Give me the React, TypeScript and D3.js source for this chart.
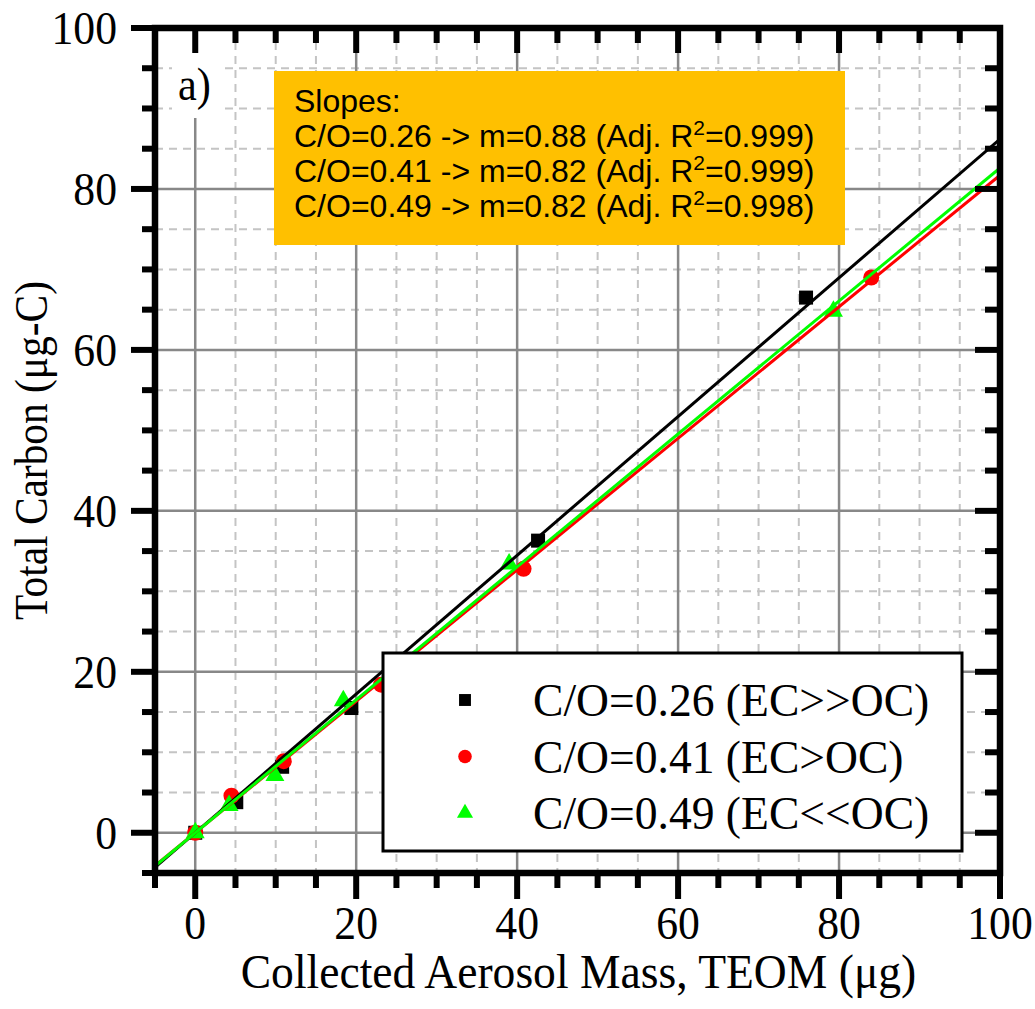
import React from "react";
import * as d3 from "d3";

// ---- data ----
const seriesNames = ["C/O=0.26 (EC>>OC)", "C/O=0.41 (EC>OC)", "C/O=0.49 (EC<<OC)"];
const seriesColors = ["#000000", "#ff0000", "#00ff00"];
const seriesShapes = ["square", "circle", "triangle"];

const massA = [0, 5.1, 10.8, 19.4, 42.6, 75.9];
const carbonA = [0, 3.8, 8.2, 15.5, 36.3, 66.5];
const massB = [0, 4.5, 11.0, 23.1, 40.8, 84.0];
const carbonB = [0, 4.6, 8.9, 18.4, 32.8, 69.0];
const massC = [0, 4.2, 9.9, 18.4, 39.0, 79.3];
const carbonC = [0, 3.4, 7.1, 16.4, 33.4, 64.8];

const fitSlopes = [0.862, 0.817, 0.826];
const fitIntercepts = [0, 0, 0];

const slopeTitle = "Slopes:";
const slopeCO = ["0.26", "0.41", "0.49"];
const slopeM = ["0.88", "0.82", "0.82"];
const slopeR2 = ["0.999", "0.999", "0.998"];

const xMajorTicks = [0, 20, 40, 60, 80, 100];
const yMajorTicks = [0, 20, 40, 60, 80, 100];
const minorTicks = d3.range(-5, 101, 5);

const xTitle = "Collected Aerosol Mass, TEOM (\u03bcg)";
const yTitle = "Total Carbon (\u03bcg-C)";
const panelLabel = "a)";

const W = 1035;
const H = 1009;
const L = 155, R = 1000, T = 28, B = 873;
const serif = "'Liberation Serif', 'Times New Roman', Times, serif";
const sans = "'Liberation Sans', Arial, Helvetica, sans-serif";

function SText({
  x, y, size, sx = 1, anchor = "start", rotate = 0, family = serif, children,
}: {
  x: number; y: number; size: number; sx?: number; anchor?: string; rotate?: number; family?: string; children: any;
}) {
  return (
    <text
      transform={`translate(${x},${y}) rotate(${rotate}) scale(${sx},1)`}
      textAnchor={anchor}
      fontFamily={family}
      fontSize={size}
      fill="#000"
    >
      {children}
    </text>
  );
}

function Marker({ shape, x, y, color, k = 1 }: { shape: string; x: number; y: number; color: string; k?: number }) {
  if (shape === "square") {
    const s = 14 * k;
    return <rect x={x - s / 2} y={y - s / 2} width={s} height={s} fill={color} />;
  }
  if (shape === "circle") {
    return <circle cx={x} cy={y} r={8 * k} fill={color} />;
  }
  const s = 19 * k;
  const h = s * 0.866;
  return (
    <polygon
      points={`${x},${y - (2 * h) / 3} ${x - s / 2},${y + h / 3} ${x + s / 2},${y + h / 3}`}
      fill={color}
    />
  );
}

export default function App() {
  const x = d3.scaleLinear().domain([-5, 100]).range([L, R]);
  const y = d3.scaleLinear().domain([-5, 100]).range([B, T]);

  const series = [
    { xs: massA, ys: carbonA },
    { xs: massB, ys: carbonB },
    { xs: massC, ys: carbonC },
  ];

  const line = d3
    .line<number[]>()
    .x((d) => x(d[0]))
    .y((d) => y(d[1]));

  const fitX = [-5, 100];
  const minorOnly = minorTicks.filter((v) => v % 20 !== 0);

  return (
    <svg
      width={W}
      height={H}
      style={{ position: "absolute", left: 0, top: 0, background: "#fff" }}
    >
      <defs>
        <clipPath id="plotClip">
          <rect x={L} y={T} width={R - L} height={B - T} />
        </clipPath>
      </defs>
      <rect x={0} y={0} width={W} height={H} fill="#fff" />

      {/* minor grid */}
      <g stroke="#c4c4c4" strokeWidth={2} strokeDasharray="8,6">
        {minorOnly.map((v) => (
          <line key={"vx" + v} x1={x(v)} x2={x(v)} y1={T} y2={B} />
        ))}
        {minorOnly.map((v) => (
          <line key={"hy" + v} x1={L} x2={R} y1={y(v)} y2={y(v)} />
        ))}
      </g>
      {/* major grid */}
      <g stroke="#888888" strokeWidth={2.5}>
        {xMajorTicks.map((v) => (
          <line key={"Vx" + v} x1={x(v)} x2={x(v)} y1={T} y2={B} />
        ))}
        {yMajorTicks.map((v) => (
          <line key={"Hy" + v} x1={L} x2={R} y1={y(v)} y2={y(v)} />
        ))}
      </g>

      {/* panel label */}
      <rect x={172} y={48} width={48} height={70} fill="#fff" />
      <SText x={178} y={100} size={46} sx={0.92}>{panelLabel}</SText>

      {/* slopes box */}
      <rect x={274} y={71} width={571} height={174} fill="#ffc000" />
      <g fontFamily={sans} fontSize={32} fill="#000">
        <text x={294} y={112}>{slopeTitle}</text>
        {slopeCO.map((c, i) => (
          <text key={c + i} x={294} y={147 + i * 35}>
            {`C/O=${c} -> m=${slopeM[i]} (Adj. R`}
            <tspan dy={-12} fontSize={21}>2</tspan>
            <tspan dy={12}>{`=${slopeR2[i]})`}</tspan>
          </text>
        ))}
      </g>

      {/* data */}
      <g clipPath="url(#plotClip)">
        {series.map((s, si) =>
          s.xs.map((xv, i) => (
            <Marker
              key={si + "-" + i}
              shape={seriesShapes[si]}
              x={x(xv)}
              y={y(s.ys[i])}
              color={seriesColors[si]}
            />
          ))
        )}
        {fitSlopes.map((m, si) => (
          <path
            key={"fit" + si}
            d={line(fitX.map((xv) => [xv, m * xv + fitIntercepts[si]])) || ""}
            fill="none"
            stroke={seriesColors[si]}
            strokeWidth={3}
          />
        ))}
      </g>

      {/* legend */}
      <rect x={383} y={653} width={579} height={198} fill="#fff" stroke="#000" strokeWidth={3} />
      {seriesNames.map((n, i) => (
        <g key={n}>
          <Marker shape={seriesShapes[i]} x={465} y={700 + i * 56.5} color={seriesColors[i]} k={0.85} />
          <SText x={533} y={700 + i * 56.5 + 16} size={47} sx={0.97}>{n}</SText>
        </g>
      ))}

      {/* ticks */}
      <g stroke="#000" strokeWidth={6}>
        {minorTicks.map((v) => {
          const major = v % 20 === 0;
          const lenOut = major ? 26 : 15;
          const lenIn = major ? 25 : 15;
          return (
            <g key={"t" + v}>
              <line x1={x(v)} x2={x(v)} y1={B} y2={B + lenOut} />
              <line x1={x(v)} x2={x(v)} y1={T} y2={T + lenIn} />
              <line x1={L} x2={L - lenOut + 2} y1={y(v)} y2={y(v)} />
              <line x1={R} x2={R - lenIn} y1={y(v)} y2={y(v)} />
            </g>
          );
        })}
      </g>
      {/* frame */}
      <rect x={L} y={T} width={R - L} height={B - T} fill="none" stroke="#000" strokeWidth={6.5} />

      {/* tick labels */}
      {xMajorTicks.map((v) => (
        <SText key={"xl" + v} x={x(v)} y={939} size={47} sx={0.93} anchor="middle">
          {v}
        </SText>
      ))}
      {yMajorTicks.map((v) => (
        <SText key={"yl" + v} x={117} y={y(v) + 16} size={47} sx={0.93} anchor="end">
          {v}
        </SText>
      ))}

      {/* axis titles */}
      <SText x={(L + R) / 2 + 1} y={988} size={48} sx={0.95} anchor="middle">
        {xTitle}
      </SText>
      <SText x={47} y={(T + B) / 2} size={46} sx={0.9} anchor="middle" rotate={-90}>
        {yTitle}
      </SText>
    </svg>
  );
}
